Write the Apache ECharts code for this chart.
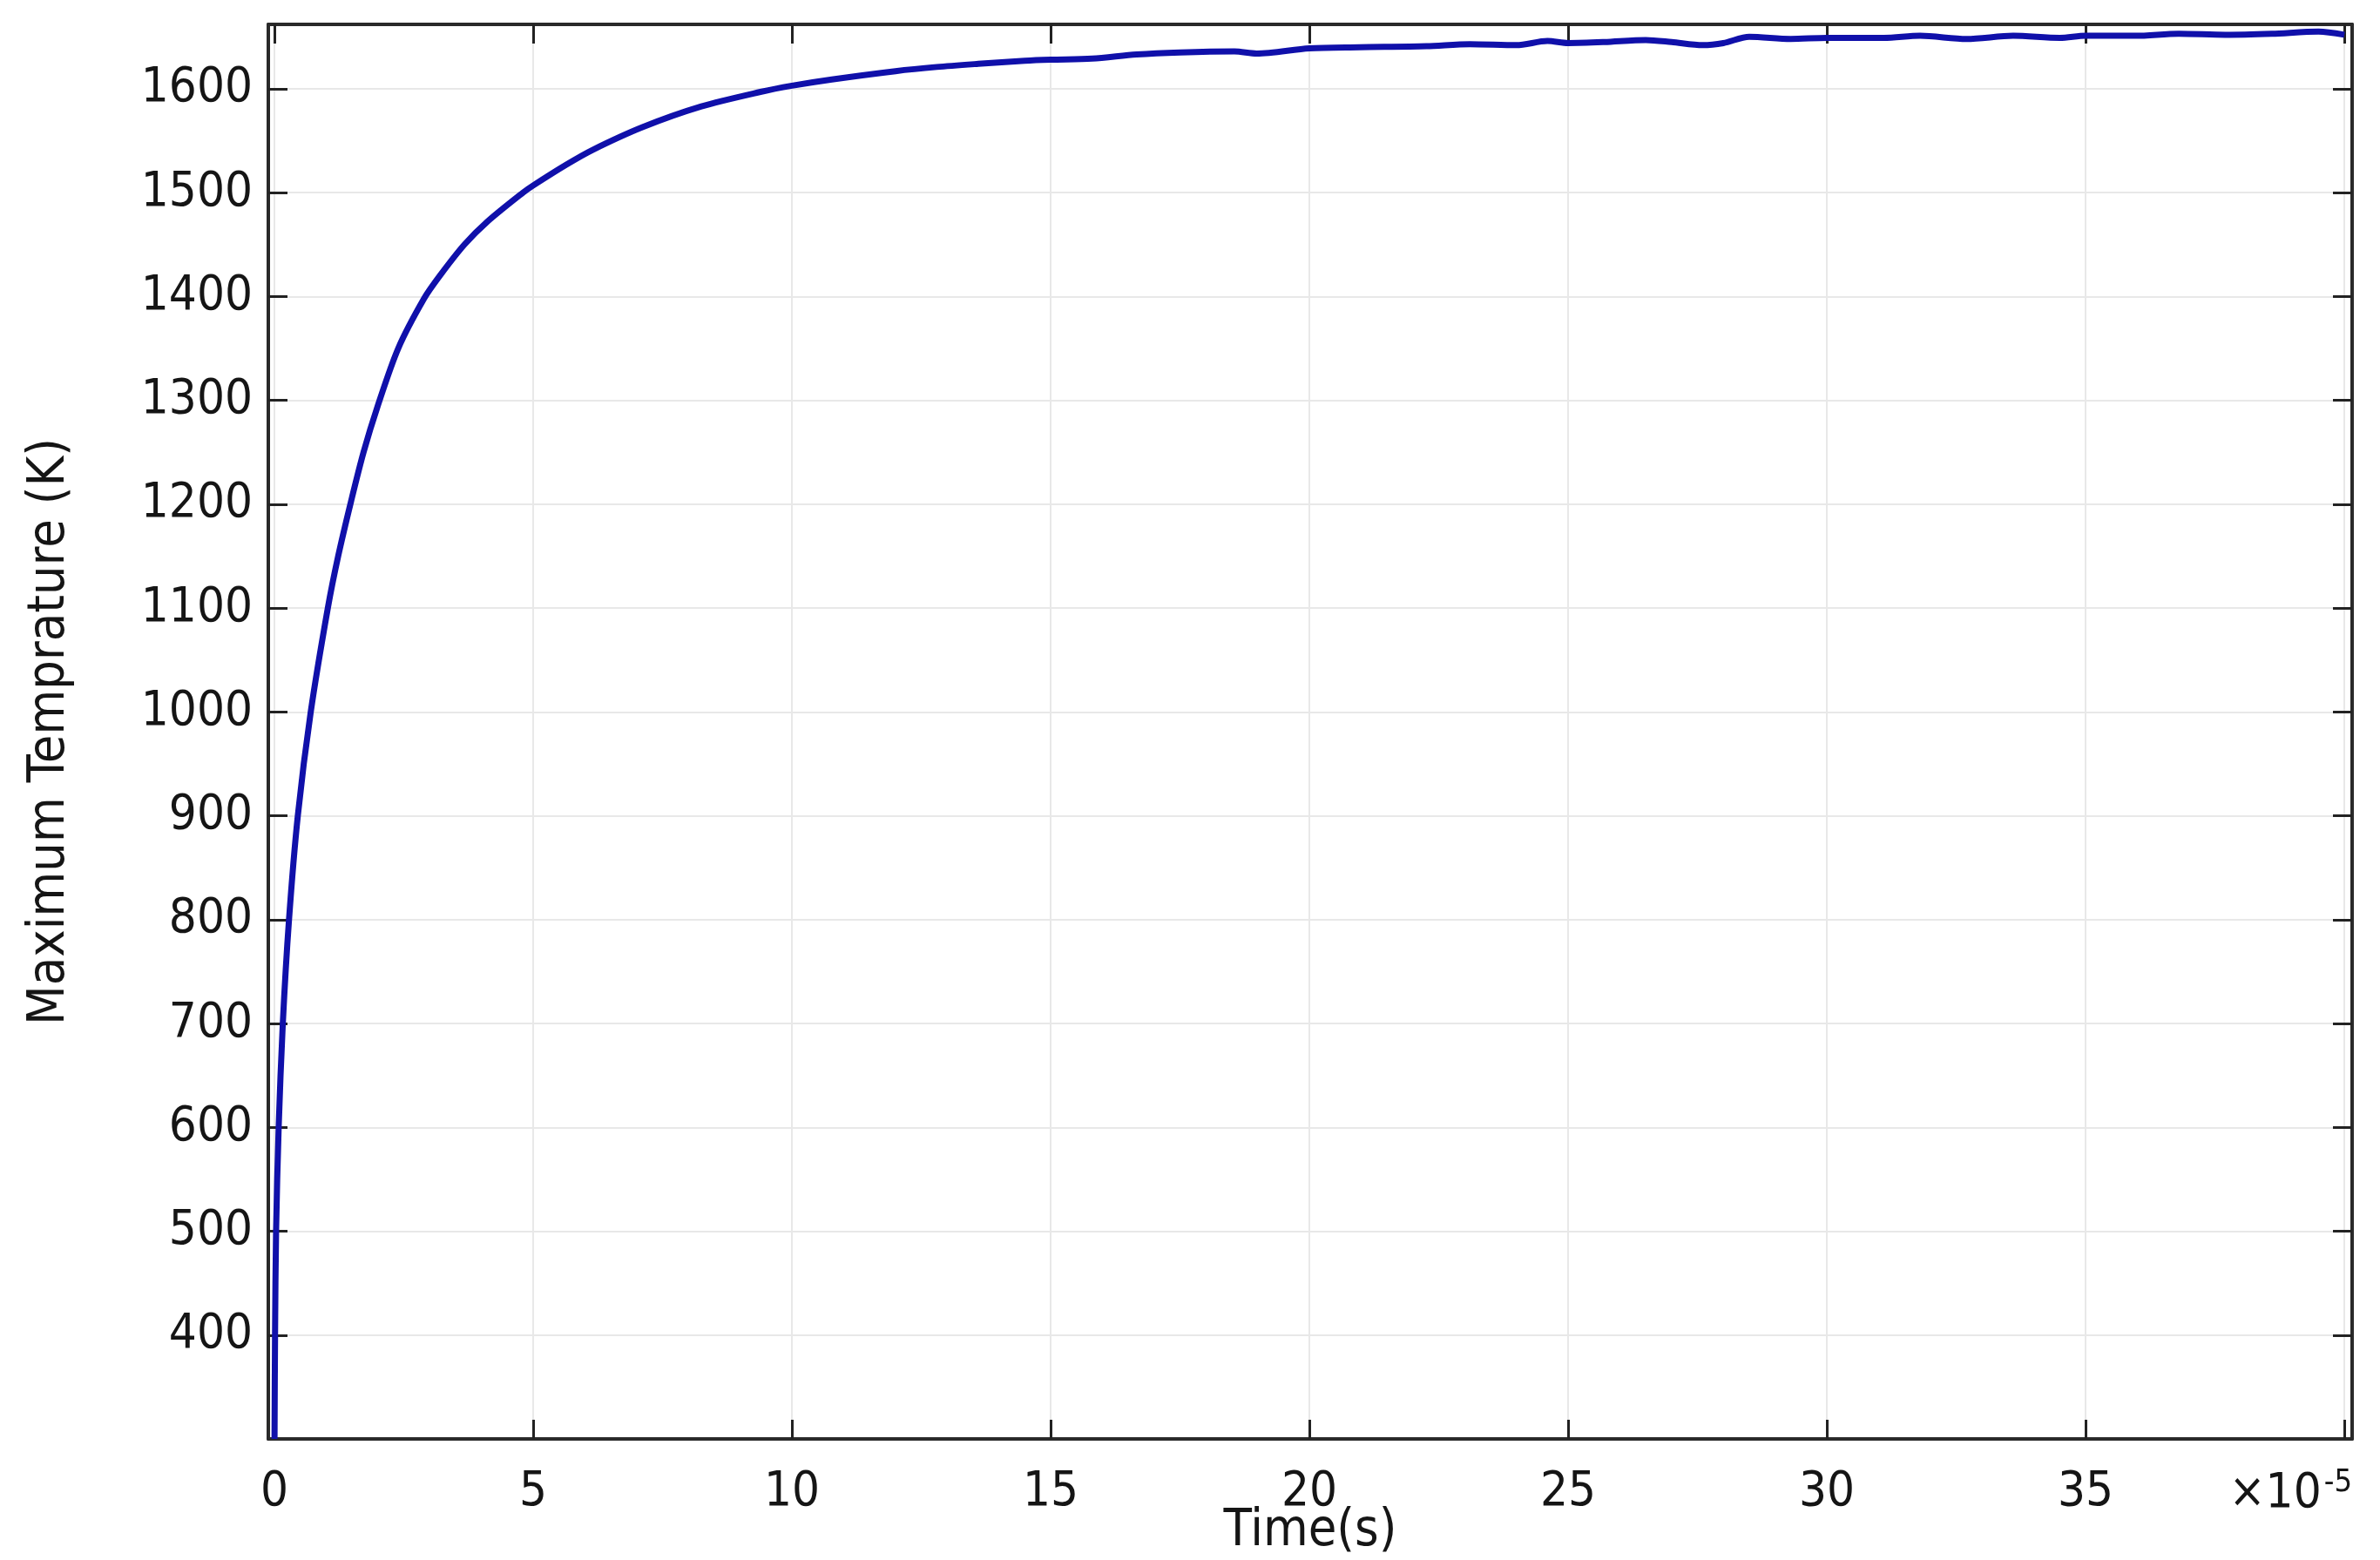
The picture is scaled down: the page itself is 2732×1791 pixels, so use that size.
<!DOCTYPE html>
<html>
<head>
<meta charset="utf-8">
<script src="https://cdn.jsdelivr.net/npm/echarts@6/dist/echarts.min.js"></script>
<style>
  html, body { margin: 0; padding: 0; background: #fff; }
  #chart { width: 2732px; height: 1791px; }
</style>
</head>
<body>
<div id="chart"></div>
<script>
// Time in units of 1e-5 s
const timeValues = [0, 0.01, 0.03, 0.08, 0.16, 0.28, 0.45, 0.70, 1.03, 1.23, 1.48, 1.72, 1.99, 2.39, 2.89, 3.21, 3.67, 4.11, 4.80, 5.0, 5.64, 6.14, 7.11, 8.25, 9.39, 10, 10.77, 12.0, 12.8, 13.6, 14.5, 15, 15.8, 16.66, 17.5, 18.55, 18.98, 20, 20.97, 22.26, 23.1, 24, 24.6, 25, 25.7, 26.5, 27.0, 27.6, 28.0, 28.5, 29.3, 30, 31.1, 31.8, 32.7, 33.6, 34.5, 35, 35.96, 36.8, 37.7, 38.6, 39.5, 40];
// Maximum temperature (K)
const tempValues = [300, 400, 500, 600, 700, 800, 900, 1000, 1100, 1150, 1203, 1250, 1294, 1350, 1398, 1421, 1450, 1472, 1500, 1507, 1527, 1541, 1563, 1583, 1597, 1603, 1609, 1617, 1621, 1624, 1627, 1628, 1629, 1633, 1635, 1636, 1634, 1639, 1640, 1641, 1643, 1642, 1646, 1644, 1645, 1647, 1645, 1642, 1644, 1650, 1648, 1649, 1649, 1651, 1648, 1651, 1649, 1651, 1651, 1653, 1652, 1653, 1655, 1652];

const xTicks = [0, 5, 10, 15, 20, 25, 30, 35, 40];
const xLabels = [0, 5, 10, 15, 20, 25, 30, 35];
const yTicks = [400, 500, 600, 700, 800, 900, 1000, 1100, 1200, 1300, 1400, 1500, 1600];
const xName = 'Time(s)';
const yName = 'Maximum Temprature (K)';
const xMultiplier = ['×10', '-5'];

const FONT = "'DejaVu Sans Condensed', 'DejaVu Sans', sans-serif";
const X_MIN = -0.12, X_MAX = 40.15, Y_MIN = 300, Y_MAX = 1662;
const TXT = '#151515';

const lineStyleAxis = { color: '#2a2a2a', width: 4 };
const tickStyle = { color: '#222', width: 3 };

const chart = echarts.init(document.getElementById('chart'), null, { renderer: 'canvas' });

const data = timeValues.map((t, i) => [t, tempValues[i]]);

chart.setOption({
  backgroundColor: '#ffffff',
  animation: false,
  grid: { left: 308, right: 32, top: 28, bottom: 139, containLabel: false, outerBoundsMode: 'none' },
  xAxis: [
    {
      type: 'value', position: 'bottom', min: X_MIN, max: X_MAX,
      name: xName, nameLocation: 'middle', nameGap: 77, nameMoveOverlap: false,
      nameTextStyle: { fontFamily: FONT, fontSize: 59, color: TXT },
      axisLine: { show: true, onZero: false, lineStyle: lineStyleAxis },
      axisTick: { show: true, inside: true, length: 22, lineStyle: tickStyle, customValues: xTicks },
      axisLabel: {
        show: true, margin: 33, fontFamily: FONT, fontSize: 56, color: TXT,
        customValues: xLabels,
        formatter: function (v) { return String(v); }
      },
      splitLine: { show: true, lineStyle: { color: '#e8e8e8', width: 2 } }
    },
    {
      type: 'value', position: 'top', min: X_MIN, max: X_MAX,
      axisLine: { show: true, onZero: false, lineStyle: lineStyleAxis },
      axisTick: { show: true, inside: true, length: 22, lineStyle: tickStyle, customValues: xTicks },
      axisLabel: { show: false },
      splitLine: { show: false }
    },
    {
      // carries only the "×10^-5" multiplier label at the right end of the bottom axis
      type: 'value', position: 'bottom', min: X_MIN, max: X_MAX,
      axisLine: { show: false },
      axisTick: { show: false },
      splitLine: { show: false },
      axisLabel: {
        show: true, margin: 33, align: 'right', customValues: [X_MAX],
        formatter: function () { return '{m|' + xMultiplier[0] + '}{s|' + xMultiplier[1] + '}'; },
        rich: {
          m: { fontFamily: FONT, fontSize: 56, color: TXT, lineHeight: 60 },
          s: { fontFamily: FONT, fontSize: 36, color: TXT, verticalAlign: 'top', padding: [0, 0, 0, 3] }
        }
      }
    }
  ],
  yAxis: [
    {
      type: 'value', position: 'left', min: Y_MIN, max: Y_MAX,
      name: yName, nameLocation: 'middle', nameGap: 221, nameRotate: 90, nameMoveOverlap: false,
      nameTextStyle: { fontFamily: FONT, fontSize: 59, color: TXT },
      axisLine: { show: true, onZero: false, lineStyle: lineStyleAxis },
      axisTick: { show: true, inside: true, length: 22, lineStyle: tickStyle, customValues: yTicks },
      axisLabel: {
        show: true, margin: 18, fontFamily: FONT, fontSize: 56, color: TXT, customValues: yTicks,
        formatter: function (v) { return String(v); }
      },
      splitLine: { show: true, lineStyle: { color: '#e8e8e8', width: 2 } }
    },
    {
      type: 'value', position: 'right', min: Y_MIN, max: Y_MAX,
      axisLine: { show: true, onZero: false, lineStyle: lineStyleAxis },
      axisTick: { show: true, inside: true, length: 22, lineStyle: tickStyle, customValues: yTicks },
      axisLabel: { show: false },
      splitLine: { show: false }
    }
  ],
  series: [
    {
      type: 'line',
      xAxisIndex: 0, yAxisIndex: 0,
      data: data,
      showSymbol: false,
      smooth: 0.3,
      clip: true,
      lineStyle: { color: '#1010aa', width: 7 },
      z: 5
    }
  ]
});
</script>
</body>
</html>
